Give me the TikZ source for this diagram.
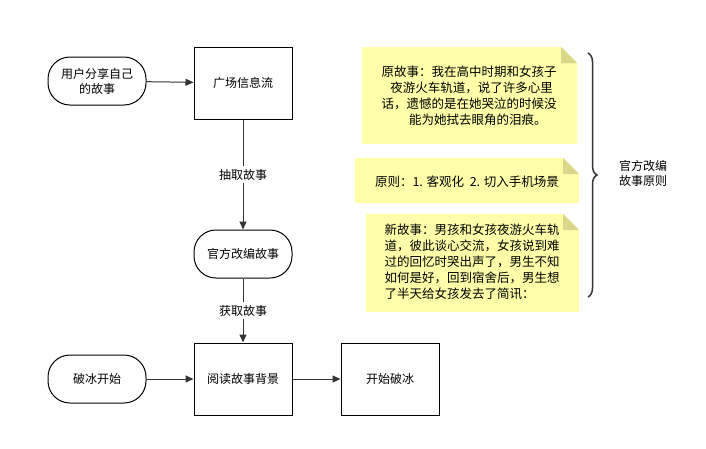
\documentclass[tikz,border=0pt]{standalone}
\usepackage{fontspec}
\setmainfont{Noto Sans CJK SC}
\usetikzlibrary{arrows.meta,decorations.pathreplacing}
\definecolor{notefill}{HTML}{FFFFAA}
\definecolor{notefold}{HTML}{D8D88A}
\definecolor{linegray}{HTML}{333333}
\tikzset{
  box/.style={draw=black, line width=1pt, minimum width=98pt, minimum height=72pt, font=\fontsize{12}{15}\selectfont, align=center},
  term/.style={draw=black, line width=1pt, rounded corners=22pt, minimum width=98pt, minimum height=48pt, font=\fontsize{12}{15}\selectfont, align=center},
  flow/.style={-{Triangle[length=8pt,width=7pt]}, line width=1pt, draw=linegray},
  tag/.style={fill=white, font=\fontsize{12}{15}\selectfont},
  notetext/.style={font=\fontsize{12.5}{16}\selectfont, align=left}
}
% sticky note: #1,#2 top left; #3,#4 bottom right
\newcommand{\stickynote}[4]{
  \fill[notefill] (#1,#2) -- (#3-16,#2) -- (#3,#2+16) -- (#3,#4) -- (#1,#4) -- cycle;
  \fill[notefold] (#3-16,#2) -- (#3,#2+16) -- (#3-16,#2+16) -- cycle;
}
\begin{document}
\begin{tikzpicture}[x=1pt,y=-1pt]
    \useasboundingbox (0,0) rectangle (706,448);

    % Flow nodes
    \node[term] (share) at (97,81) {用户分享自己\\的故事};
    \node[box] (feed) at (243,83) {广场信息流};
    \node[term] (adapt) at (243,254) {官方改编故事};
    \node[term] (start) at (97,379) {破冰开始};
    \node[box] (read) at (243,379) {阅读故事背景};
    \node[box] (ice) at (390,379) {开始破冰};

    % Connectors
    \draw[flow] (share) -- (feed);
    \draw[flow] (feed) -- node[tag] {抽取故事} (adapt);
    \draw[flow] (adapt) -- node[tag] {获取故事} (read);
    \draw[flow] (start) -- (read);
    \draw[flow] (read) -- (ice);

    % Notes
    \stickynote{362}{47}{577}{144}
    \stickynote{355}{158}{579}{203}
    \stickynote{366}{214}{579}{312}
    \node[notetext] (orig) at (469,96) {原故事：我在高中时期和女孩子\\\hspace*{0.7em}夜游火车轨道，说了许多心里\\话，遗憾的是在她哭泣的时候没\\\hspace*{2.2em}能为她拭去眼角的泪痕。};
    \node[notetext] (rule) at (467,182) {原则：1. 客观化\ \ 2. 切入手机场景};
    \node[notetext] (new) at (472,262) {新故事：男孩和女孩夜游火车轨\\道，彼此谈心交流，女孩说到难\\过的回忆时哭出声了，男生不知\\如何是好，回到宿舍后，男生想\\了半天给女孩发去了简讯：};

    % Brace
    \draw[decorate, decoration={brace, amplitude=9pt}, line width=1.5pt, linegray] (588,53) -- (588,297);
    \node[font=\fontsize{12}{15}\selectfont, align=center] (principle) at (643,173) {官方改编\\故事原则};
\end{tikzpicture}
\end{document}
